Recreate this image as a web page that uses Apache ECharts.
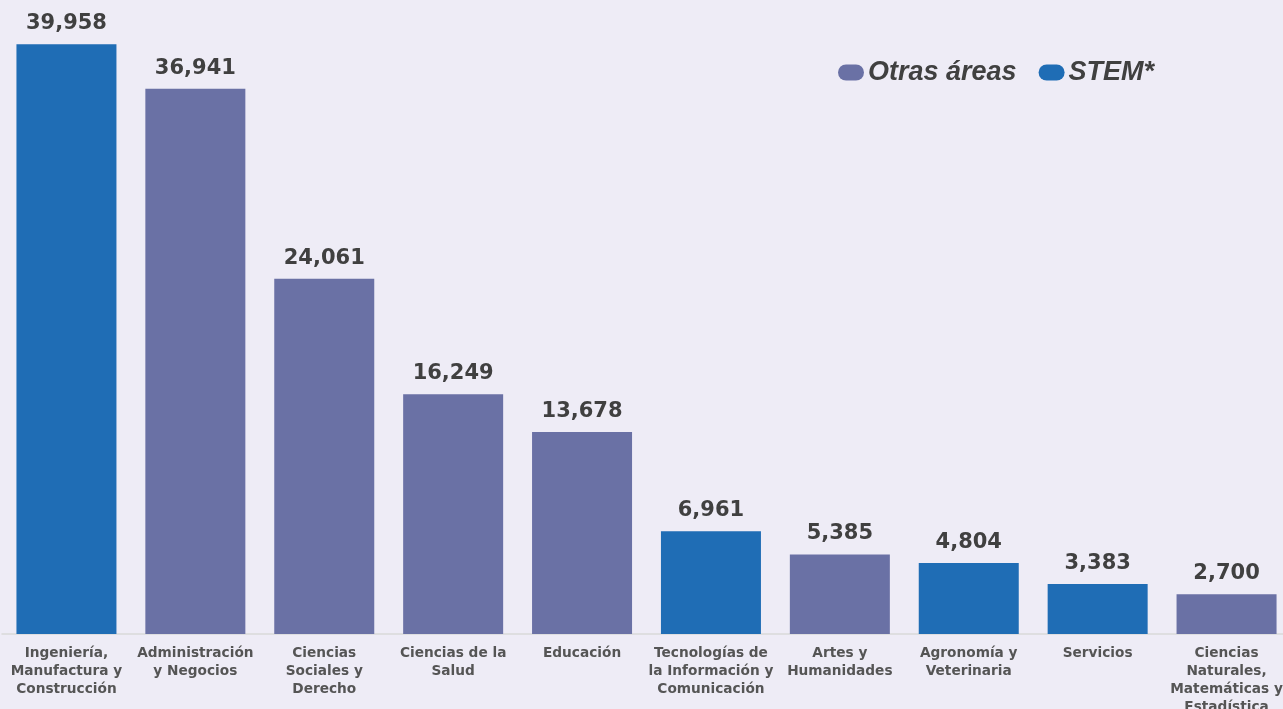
<!DOCTYPE html>
<html>
<head>
<meta charset="utf-8">
<script src="https://cdn.jsdelivr.net/npm/echarts@6/dist/echarts.min.js"></script>
<style>
html,body{margin:0;padding:0;background:#EEECF6;}
#chart{width:1283px;height:709px;}
</style>
</head>
<body>
<div id="chart"></div>
<script>
var categories = [
  "Ingeniería,\nManufactura y\nConstrucción",
  "Administración\ny Negocios",
  "Ciencias\nSociales y\nDerecho",
  "Ciencias de la\nSalud",
  "Educación",
  "Tecnologías de\nla Información y\nComunicación",
  "Artes y\nHumanidades",
  "Agronomía y\nVeterinaria",
  "Servicios",
  "Ciencias\nNaturales,\nMatemáticas y\nEstadística"
];
var otrasAreas = ['-', 36941, 24061, 16249, 13678, '-', 5385, '-', '-', 2700];
var stem = [39958, '-', '-', '-', '-', 6961, '-', 4804, 3383, '-'];

var chart = echarts.init(document.getElementById('chart'));
var labelCfg = {
  show: true,
  position: 'top',
  distance: 10,
  color: '#404040',
  fontFamily: 'DejaVu Sans',
  fontWeight: 'bold',
  fontSize: 21,
  formatter: function (p) { return Number(p.value).toLocaleString('en-US'); }
};
var pill = 'path://M8,0 L18,0 A8,8 0 0 1 18,16 L8,16 A8,8 0 0 1 8,0 Z';
chart.setOption({
  backgroundColor: '#EEECF6',
  animation: false,
  legend: {
    left: 838,
    top: 59,
    padding: 0,
    itemWidth: 26,
    itemHeight: 16,
    itemGap: 22,
    textStyle: {
      color: '#404040',
      fontFamily: 'Liberation Sans',
      fontStyle: 'italic',
      fontWeight: 'bold',
      fontSize: 27,
      padding: [0, 0, 0, -1]
    },
    data: [{ name: 'Otras áreas', icon: pill }, { name: 'STEM*', icon: pill }]
  },
  grid: { left: 2, top: 20, bottom: 75, width: 1289, containLabel: false, outerBoundsMode: 'none' },
  xAxis: {
    type: 'category',
    data: categories,
    axisLine: { lineStyle: { color: '#D9D9D9', width: 1.5 } },
    axisTick: { show: false },
    axisLabel: {
      interval: 0,
      color: '#555555',
      fontFamily: 'DejaVu Sans',
      fontWeight: 'bold',
      fontSize: 13.7,
      lineHeight: 18,
      margin: 10
    }
  },
  yAxis: {
    type: 'value',
    min: 0,
    max: 41600,
    show: false,
    splitLine: { show: false }
  },
  series: [
    {
      name: 'Otras áreas',
      type: 'bar',
      stack: 'a',
      barWidth: 100,
      data: otrasAreas,
      itemStyle: { color: '#6A71A5' },
      label: labelCfg
    },
    {
      name: 'STEM*',
      type: 'bar',
      stack: 'a',
      barWidth: 100,
      data: stem,
      itemStyle: { color: '#1F6DB5' },
      label: labelCfg
    }
  ]
});
</script>
</body>
</html>
